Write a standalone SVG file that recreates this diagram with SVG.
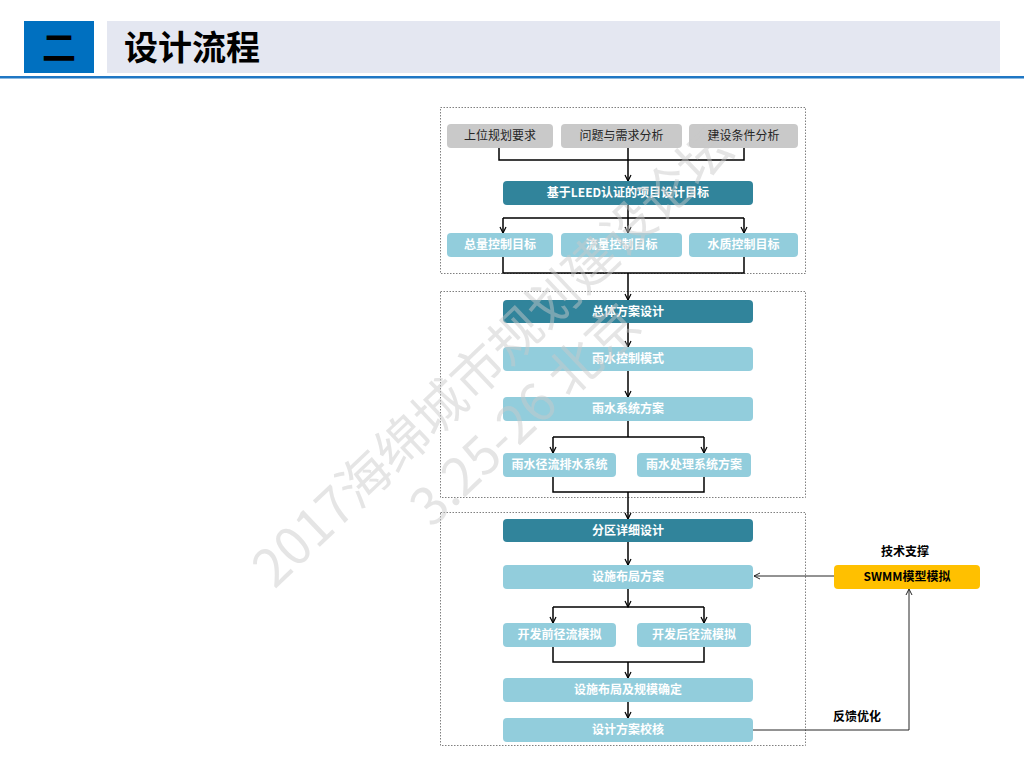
<svg xmlns="http://www.w3.org/2000/svg" width="1024" height="768" viewBox="0 0 1024 768">
<style>
text{font-family:"Noto Sans CJK SC","Noto Sans",sans-serif}
.grey{fill:#c9c9c9}
.dark{fill:#31849b}
.light{fill:#92cddc}
.gt{font-size:12px;fill:#262626;text-anchor:middle}
.wt{font-size:12px;fill:#ffffff;font-weight:bold;text-anchor:middle}
.frame{fill:none;stroke:#808080;stroke-width:1;stroke-dasharray:1.5,1.5}
.ln{fill:none;stroke:#000;stroke-width:1.5}
.fb{fill:none;stroke:#262626;stroke-width:1}
.wm{font-size:52px;fill:#c8c8c8;fill-opacity:0.48;text-anchor:middle}
</style>
<defs>
<marker id="ah" markerWidth="8" markerHeight="8" refX="7" refY="4" orient="auto" markerUnits="userSpaceOnUse">
<path d="M1,1 L7,4 L1,7" fill="none" stroke="#000" stroke-width="1.2"/>
</marker>
<marker id="ah2" markerWidth="8" markerHeight="8" refX="7" refY="4" orient="auto" markerUnits="userSpaceOnUse">
<path d="M1,1 L7,4 L1,7" fill="none" stroke="#262626" stroke-width="1"/>
</marker>
</defs>
<rect width="1024" height="768" fill="#fff"/>
<g id="header">
<rect x="24" y="21" width="70" height="52" fill="#0070c0"/>
<text x="59" y="60" font-size="34" font-weight="bold" fill="#000" text-anchor="middle">二</text>
<rect x="107" y="21" width="893" height="52" fill="#e4e7f1"/>
<text x="124" y="60" font-size="34" font-weight="bold" fill="#000">设计流程</text>
<rect x="0" y="76" width="1024" height="2.5" fill="#1f77c4"/>
</g>
<g id="frames">
<rect class="frame" x="440.5" y="107.5" width="365" height="166"/>
<rect class="frame" x="440.5" y="291.5" width="365" height="206"/>
<rect class="frame" x="440.5" y="512.5" width="365" height="233"/>
</g>
<g id="connectors">
<path class="ln" d="M499,148 V160 H744 V148"/>
<path class="ln" d="M628,148 V181" marker-end="url(#ah)"/>
<path class="ln" d="M628,205 V218 M503,218 H744"/>
<path class="ln" d="M503,218 V233" marker-end="url(#ah)"/>
<path class="ln" d="M628,218 V233" marker-end="url(#ah)"/>
<path class="ln" d="M744,218 V233" marker-end="url(#ah)"/>
<path class="ln" d="M503,257 V273 H744 V257"/>
<path class="ln" d="M628,273 V300" marker-end="url(#ah)"/>
<path class="ln" d="M628,323 V347" marker-end="url(#ah)"/>
<path class="ln" d="M628,371 V397" marker-end="url(#ah)"/>
<path class="ln" d="M628,421 V437 M553,437 H704"/>
<path class="ln" d="M553,437 V453" marker-end="url(#ah)"/>
<path class="ln" d="M704,437 V453" marker-end="url(#ah)"/>
<path class="ln" d="M553,477 V492 H704 V477"/>
<path class="ln" d="M628,492 V519" marker-end="url(#ah)"/>
<path class="ln" d="M628,542 V565" marker-end="url(#ah)"/>
<path class="ln" d="M628,589 V607" marker-end="url(#ah)"/>
<path class="ln" d="M553,607 H704"/>
<path class="ln" d="M553,607 V623" marker-end="url(#ah)"/>
<path class="ln" d="M704,607 V623" marker-end="url(#ah)"/>
<path class="ln" d="M553,647 V662 H704 V647"/>
<path class="ln" d="M628,662 V678" marker-end="url(#ah)"/>
<path class="ln" d="M628,702 V718" marker-end="url(#ah)"/>
<path class="fb" d="M753,730 H909 V589" marker-end="url(#ah2)"/>
<path class="fb" d="M834,576 H754" marker-end="url(#ah2)"/>
</g>
<g id="n1"><rect class="grey" x="447" y="124" width="106" height="24" rx="4"/><text class="gt" x="500" y="140">上位规划要求</text></g>
<g id="n2"><rect class="grey" x="561" y="124" width="121" height="24" rx="4"/><text class="gt" x="621.5" y="140">问题与需求分析</text></g>
<g id="n3"><rect class="grey" x="689" y="124" width="109" height="24" rx="4"/><text class="gt" x="743.5" y="140">建设条件分析</text></g>
<g id="n4"><rect class="dark" x="503" y="181" width="250" height="24" rx="4"/><text class="wt" x="628" y="197">基于LEED认证的项目设计目标</text></g>
<g id="n5"><rect class="light" x="447" y="233" width="106" height="24" rx="4"/><text class="wt" x="500" y="249">总量控制目标</text></g>
<g id="n6"><rect class="light" x="561" y="233" width="121" height="24" rx="4"/><text class="wt" x="621.5" y="249">流量控制目标</text></g>
<g id="n7"><rect class="light" x="689" y="233" width="109" height="24" rx="4"/><text class="wt" x="743.5" y="249">水质控制目标</text></g>
<g id="n8"><rect class="dark" x="503" y="300" width="250" height="23" rx="4"/><text class="wt" x="628" y="316">总体方案设计</text></g>
<g id="n9"><rect class="light" x="503" y="347" width="250" height="24" rx="4"/><text class="wt" x="628" y="363">雨水控制模式</text></g>
<g id="n10"><rect class="light" x="503" y="397" width="250" height="24" rx="4"/><text class="wt" x="628" y="413">雨水系统方案</text></g>
<g id="n11"><rect class="light" x="503" y="453" width="113" height="24" rx="4"/><text class="wt" x="559.5" y="469">雨水径流排水系统</text></g>
<g id="n12"><rect class="light" x="637" y="453" width="114" height="24" rx="4"/><text class="wt" x="694" y="469">雨水处理系统方案</text></g>
<g id="n13"><rect class="dark" x="503" y="519" width="250" height="23" rx="4"/><text class="wt" x="628" y="535">分区详细设计</text></g>
<g id="n14"><rect class="light" x="503" y="565" width="250" height="24" rx="4"/><text class="wt" x="628" y="581">设施布局方案</text></g>
<g id="n15"><rect class="light" x="503" y="623" width="113" height="24" rx="4"/><text class="wt" x="559.5" y="639">开发前径流模拟</text></g>
<g id="n16"><rect class="light" x="637" y="623" width="114" height="24" rx="4"/><text class="wt" x="694" y="639">开发后径流模拟</text></g>
<g id="n17"><rect class="light" x="503" y="678" width="250" height="24" rx="4"/><text class="wt" x="628" y="694">设施布局及规模确定</text></g>
<g id="n18"><rect class="light" x="503" y="718" width="250" height="24" rx="4"/><text class="wt" x="628" y="734">设计方案校核</text></g>
<g id="n19"><rect x="834" y="565" width="146" height="24" rx="4" fill="#ffc000"/><text x="907" y="581" font-size="12" font-weight="bold" fill="#000" text-anchor="middle">SWMM模型模拟</text></g>
<g id="labels">
<text x="905" y="556" font-size="12" font-weight="bold" fill="#000" text-anchor="middle">技术支撑</text>
<text x="833" y="721" font-size="12" font-weight="bold" fill="#000">反馈优化</text>
</g>
<g id="watermark">
<text class="wm" transform="translate(505,371) rotate(-43.5)">2017海绵城市规划建设论坛</text>
<text class="wm" transform="translate(538,428) rotate(-43.5)">3.25-26 北京</text>
</g>
</svg>
